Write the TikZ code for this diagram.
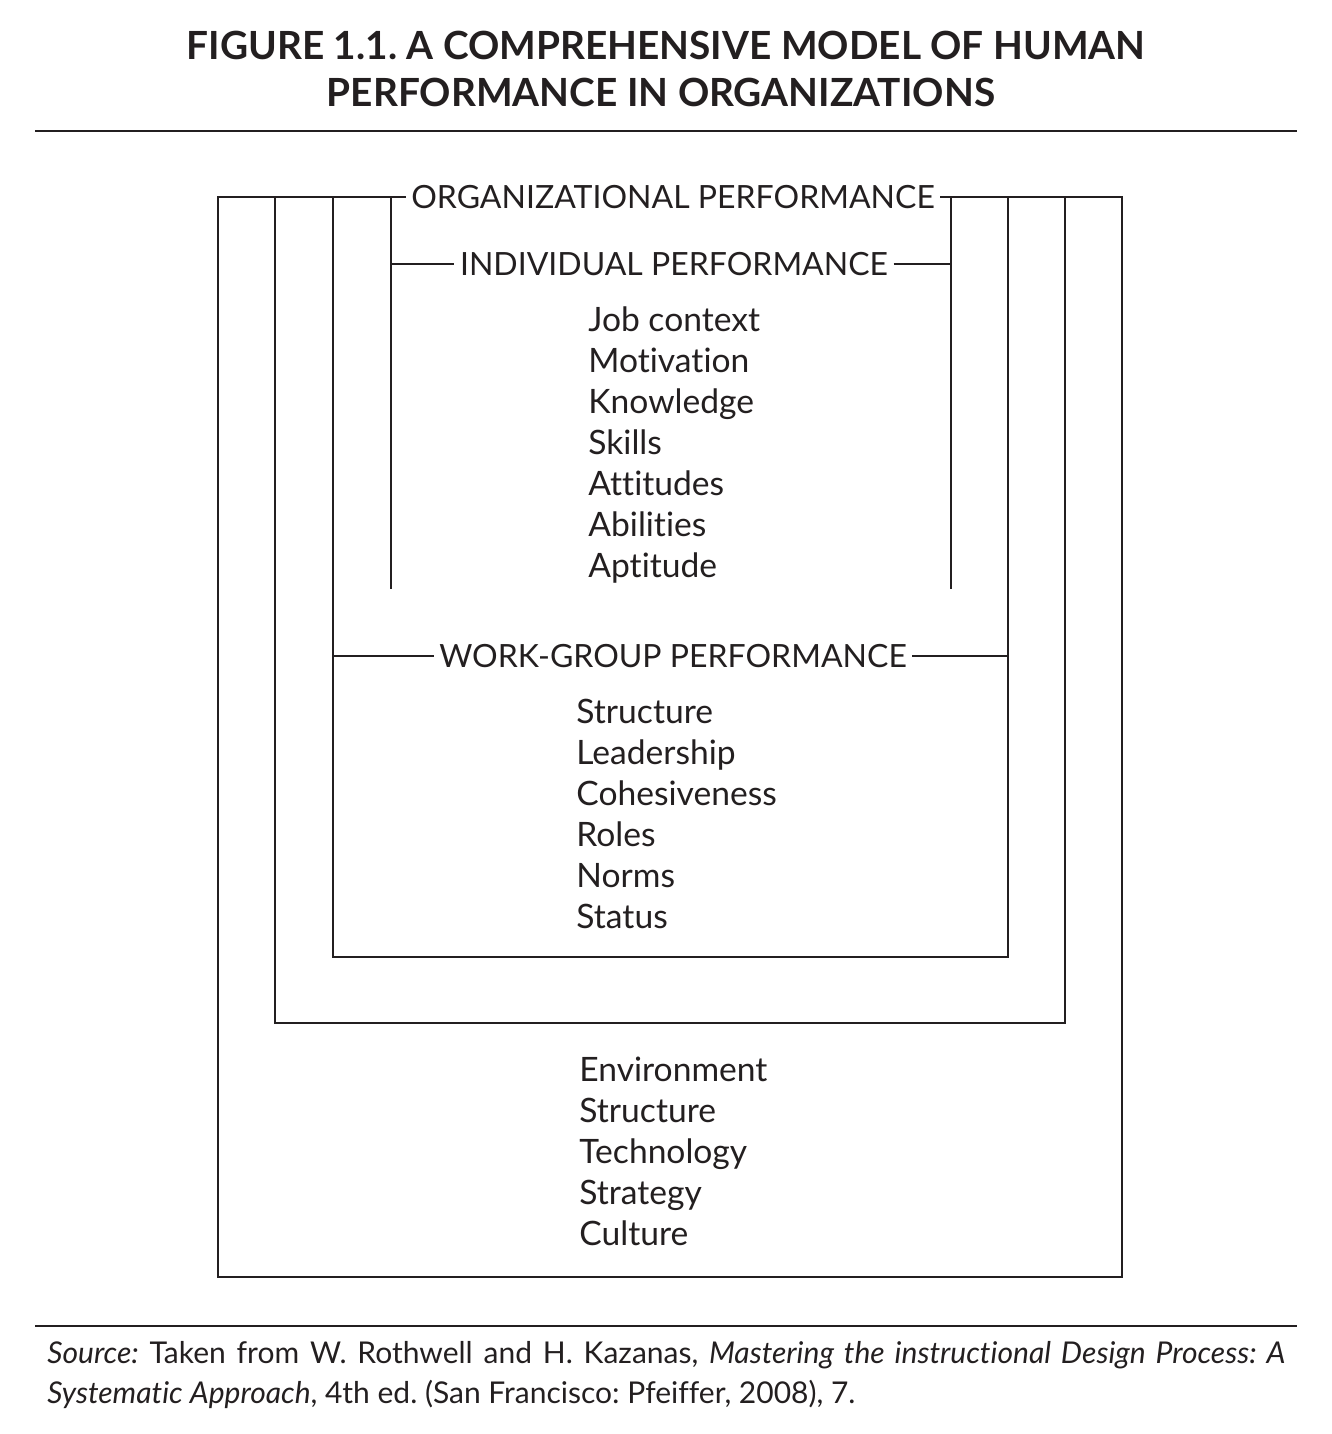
\documentclass[tikz,border=0pt]{standalone}
\usepackage{fontspec}
\setmainfont{Lato}[RawFeature=-liga]
\definecolor{ink}{HTML}{231F20}
\begin{document}
\frenchspacing
\begin{tikzpicture}[x=0.5pt,y=-0.5pt,
  rule/.style={draw=ink,line width=0.85pt},
  frame/.style={draw=ink,line width=1pt},
  heading/.style={text=ink,inner sep=2.6pt,font=\fontsize{16}{19}\selectfont},
  item/.style={text=ink,inner sep=0pt,anchor=base west,font=\fontsize{16.8}{20}\selectfont},
  titletext/.style={text=ink,inner sep=0pt,anchor=base,font=\fontsize{19.4}{23}\selectfont\bfseries},
  note/.style={text=ink,inner sep=0pt,anchor=base west,font=\fontsize{15}{18}\selectfont}]
\useasboundingbox (0,0) rectangle (1332,1434);

% title and rules
\node[titletext] (t1) at (666,60) {FIGURE 1.1. A COMPREHENSIVE MODEL OF HUMAN};
\node[titletext] (t2) at (661,107) {PERFORMANCE IN ORGANIZATIONS};
\coordinate (r1a) at (35,131);  \coordinate (r1b) at (1297,131);
\coordinate (r2a) at (35,1326); \coordinate (r2b) at (1297,1326);
\draw[rule] (r1a) -- (r1b);
\draw[rule] (r2a) -- (r2b);

% level headings
\node[heading] (org) at (673,197) {ORGANIZATIONAL PERFORMANCE};
\node[heading] (ind) at (674,264) {INDIVIDUAL PERFORMANCE};
\node[heading] (wg)  at (673,656) {WORK-GROUP PERFORMANCE};

% nested frames
\coordinate (aL) at (218,197);  \coordinate (aR) at (1122,197);
\coordinate (bL) at (275,197);  \coordinate (bR) at (1065,197);
\coordinate (cL) at (333,197);  \coordinate (cR) at (1008,197);
\coordinate (dL) at (391,197);  \coordinate (dR) at (951,197);

% organizational frame (outermost)
\draw[frame] (org.west) -- (aL) -- (218,1277) -- (1122,1277) -- (aR) -- (org.east);
% second frame
\draw[frame] (bL) -- (275,1023) -- (1065,1023) -- (bR);
% work-group frame
\draw[frame] (cL) -- (333,957) -- (1008,957) -- (cR);
\draw[frame] (333,656) -- (wg.west);
\draw[frame] (wg.east) -- (1008,656);
% individual frame (open at the bottom)
\draw[frame] (dL) -- (391,589);
\draw[frame] (dR) -- (951,589);
\draw[frame] (391,264) -- (ind.west);
\draw[frame] (ind.east) -- (951,264);

% individual factors
\foreach \t [count=\i] in {Job context,Motivation,Knowledge,Skills,Attitudes,Abilities,Aptitude}
  \node[item] (i\i) at (588,{331+41*(\i-1)}) {\t};
% work-group factors
\foreach \t [count=\i] in {Structure,Leadership,Cohesiveness,Roles,Norms,Status}
  \node[item] (w\i) at (576,{723+41*(\i-1)}) {\t};
% organizational factors
\foreach \t [count=\i] in {Environment,Structure,Technology,Strategy,Culture}
  \node[item] (o\i) at (579,{1081+41*(\i-1)}) {\t};

% source note
\node[note] (s1) at (47,1363) {\makebox[619pt][s]{\textit{Source:} Taken from W. Rothwell and H. Kazanas, \textit{Mastering the instructional Design Process: A}}};
\node[note] (s2) at (47,1403) {\textit{Systematic Approach}, 4th ed. (San Francisco: Pfeiffer, 2008), 7.};
\end{tikzpicture}
\end{document}
